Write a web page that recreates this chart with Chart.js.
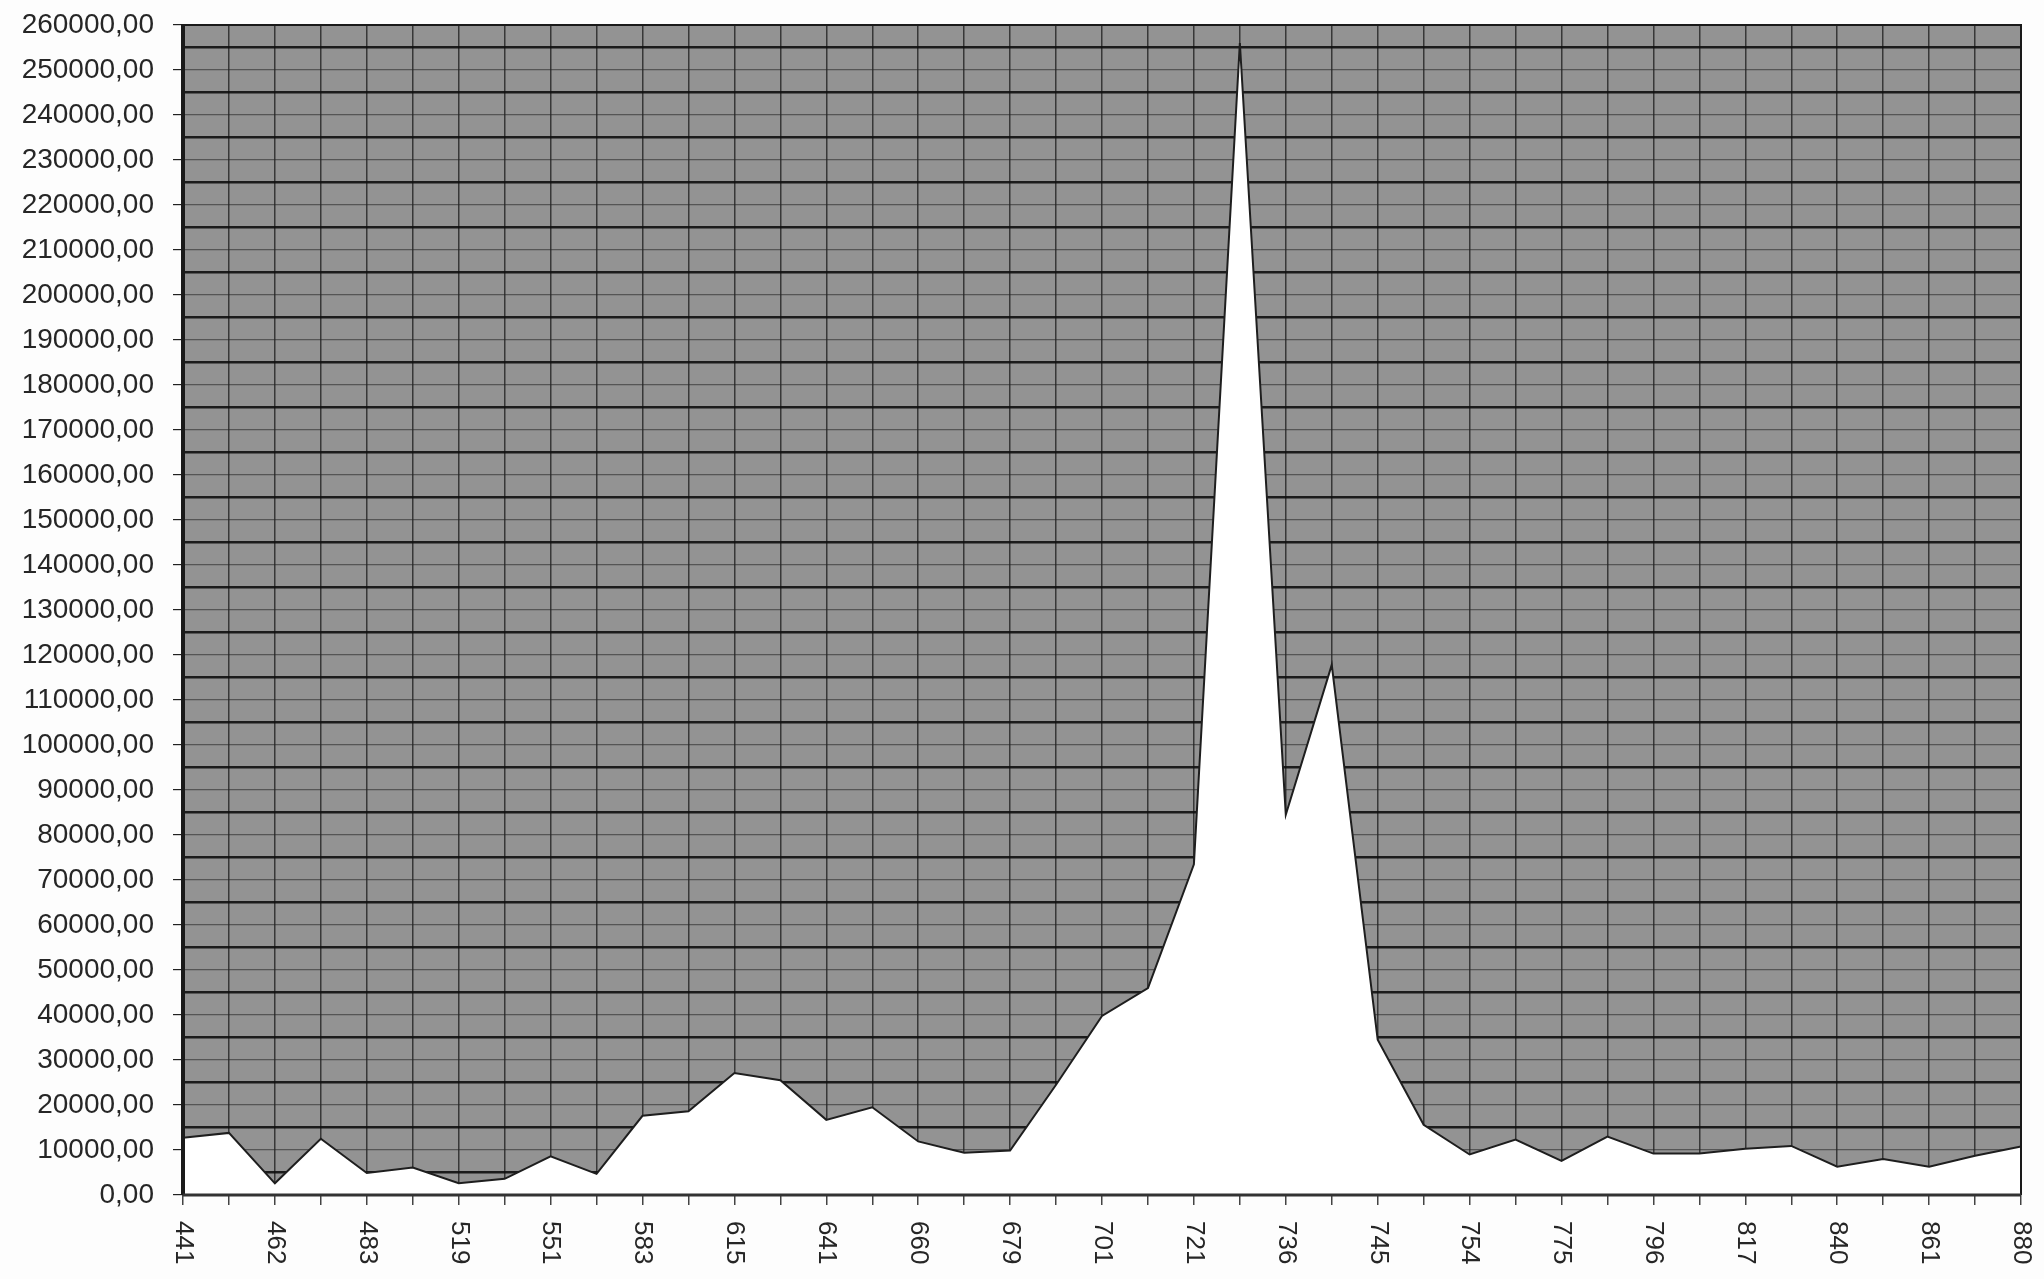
<!DOCTYPE html>
<html>
<head>
<meta charset="utf-8">
<script src="https://cdn.jsdelivr.net/npm/chart.js@4/dist/chart.umd.min.js"></script>
<style>
  html, body { margin: 0; padding: 0; background: #fdfdfd; }
  #wrap { width: 2044px; height: 1279px; position: relative; }
</style>
</head>
<body>
<div id="wrap"><canvas id="spectrum"></canvas></div>
<script>
// categories along the x axis (only every other one is labelled in the original)
const categories = ['441', '', '462', '', '483', '', '519', '', '551', '', '583', '', '615', '', '641', '', '660', '', '679', '', '701',
  '', '721', '', '736', '', '745', '', '754', '', '775', '', '796', '', '817', '', '840', '', '861', '', '880'];

const intensity = [12700, 13800, 2600, 12500, 4900, 6100, 2600, 3600, 8600, 4700, 17600, 18600, 27100, 25500, 16700, 19500,
  11900, 9400, 9900, 24500, 39800, 46000, 73500, 256000, 84500, 117800, 34500, 15600, 9000, 12300, 7600, 13000,
  9200, 9200, 10300, 10900, 6300, 8000, 6300, 8700, 10800];

const yMin = 0;
const yMax = 260000;
const yStep = 5000;

const plotGray = '#939393';
const ink = '#262626';

// gray plot background under the grid
const backdrop = {
  id: 'backdrop',
  beforeDraw(chart) {
    const { ctx, chartArea } = chart;
    ctx.save();
    ctx.fillStyle = plotGray;
    ctx.fillRect(chartArea.left, chartArea.top, chartArea.right - chartArea.left, chartArea.bottom - chartArea.top);
    ctx.restore();
  }
};

// frame + x labels turned clockwise (read top to bottom)
const frameAndLabels = {
  id: 'frameAndLabels',
  afterDatasetsDraw(chart) {
    const { ctx, chartArea } = chart;
    ctx.save();
    ctx.strokeStyle = '#1a1a1a';
    ctx.lineWidth = 2;
    ctx.beginPath();
    ctx.moveTo(chartArea.left, chartArea.top);
    ctx.lineTo(chartArea.right, chartArea.top);
    ctx.lineTo(chartArea.right, chartArea.bottom);
    ctx.stroke();
    ctx.lineWidth = 4;
    ctx.beginPath();
    ctx.moveTo(chartArea.left, chartArea.top - 1);
    ctx.lineTo(chartArea.left, chartArea.bottom);
    ctx.stroke();
    ctx.lineWidth = 3;
    ctx.strokeStyle = '#333';
    ctx.beginPath();
    ctx.moveTo(chartArea.left, chartArea.bottom);
    ctx.lineTo(chartArea.right, chartArea.bottom);
    ctx.stroke();
    ctx.restore();
  },
  afterDraw(chart) {
    const { ctx } = chart;
    const xs = chart.scales.x;
    ctx.save();
    ctx.fillStyle = ink;
    ctx.font = '26px "Liberation Sans", Arial, sans-serif';
    ctx.textAlign = 'left';
    ctx.textBaseline = 'middle';
    categories.forEach((lab, i) => {
      if (!lab) return;
      const x = xs.getPixelForTick(i);
      ctx.save();
      ctx.translate(x, xs.top + 26);
      ctx.rotate(Math.PI / 2);
      ctx.fillText(lab, 0, 0);
      ctx.restore();
    });
    ctx.restore();
  }
};

const ctx = document.getElementById('spectrum').getContext('2d');
const spectrumChart = new Chart(ctx, {
  type: 'line',
  data: {
    labels: categories,
    datasets: [{
      data: intensity,
      borderColor: '#1e1e1e',
      borderWidth: 2,
      backgroundColor: '#ffffff',
      fill: 'origin',
      tension: 0,
      pointRadius: 0
    }]
  },
  options: {
    responsive: true,
    maintainAspectRatio: false,
    animation: false,
    layout: { padding: { top: 25, right: 23, left: 0, bottom: 0 } },
    plugins: {
      legend: { display: false },
      tooltip: { enabled: false }
    },
    scales: {
      x: {
        grid: {
          color: 'rgba(25,25,25,0.75)',
          lineWidth: 1.5,
          tickLength: 10,
          tickColor: '#444'
        },
        border: { display: false },
        ticks: { display: false, autoSkip: false },
        afterFit(scale) { scale.height = 84; }
      },
      y: {
        min: yMin,
        max: yMax,
        grid: {
          color: c => (c.tick && c.tick.value % 10000 !== 0) ? 'rgba(15,15,15,0.9)' : 'rgba(35,35,35,0.55)',
          lineWidth: c => (c.tick && c.tick.value % 10000 !== 0) ? 2.5 : 1.2,
          tickLength: 10,
          tickColor: c => (c.tick && c.tick.value % 10000 === 0) ? '#222' : 'rgba(0,0,0,0)'
        },
        border: { display: false },
        ticks: {
          stepSize: yStep,
          autoSkip: false,
          padding: 19,
          color: ink,
          font: { family: '"Liberation Sans", Arial, sans-serif', size: 28 },
          callback: v => (v % 10000 === 0) ? v.toFixed(2).replace('.', ',') : ''
        },
        afterFit(scale) {
          scale.width = 183;
          scale.paddingTop = 0;
          scale.paddingBottom = 0;
        }
      }
    }
  },
  plugins: [backdrop, frameAndLabels]
});
</script>
</body>
</html>
